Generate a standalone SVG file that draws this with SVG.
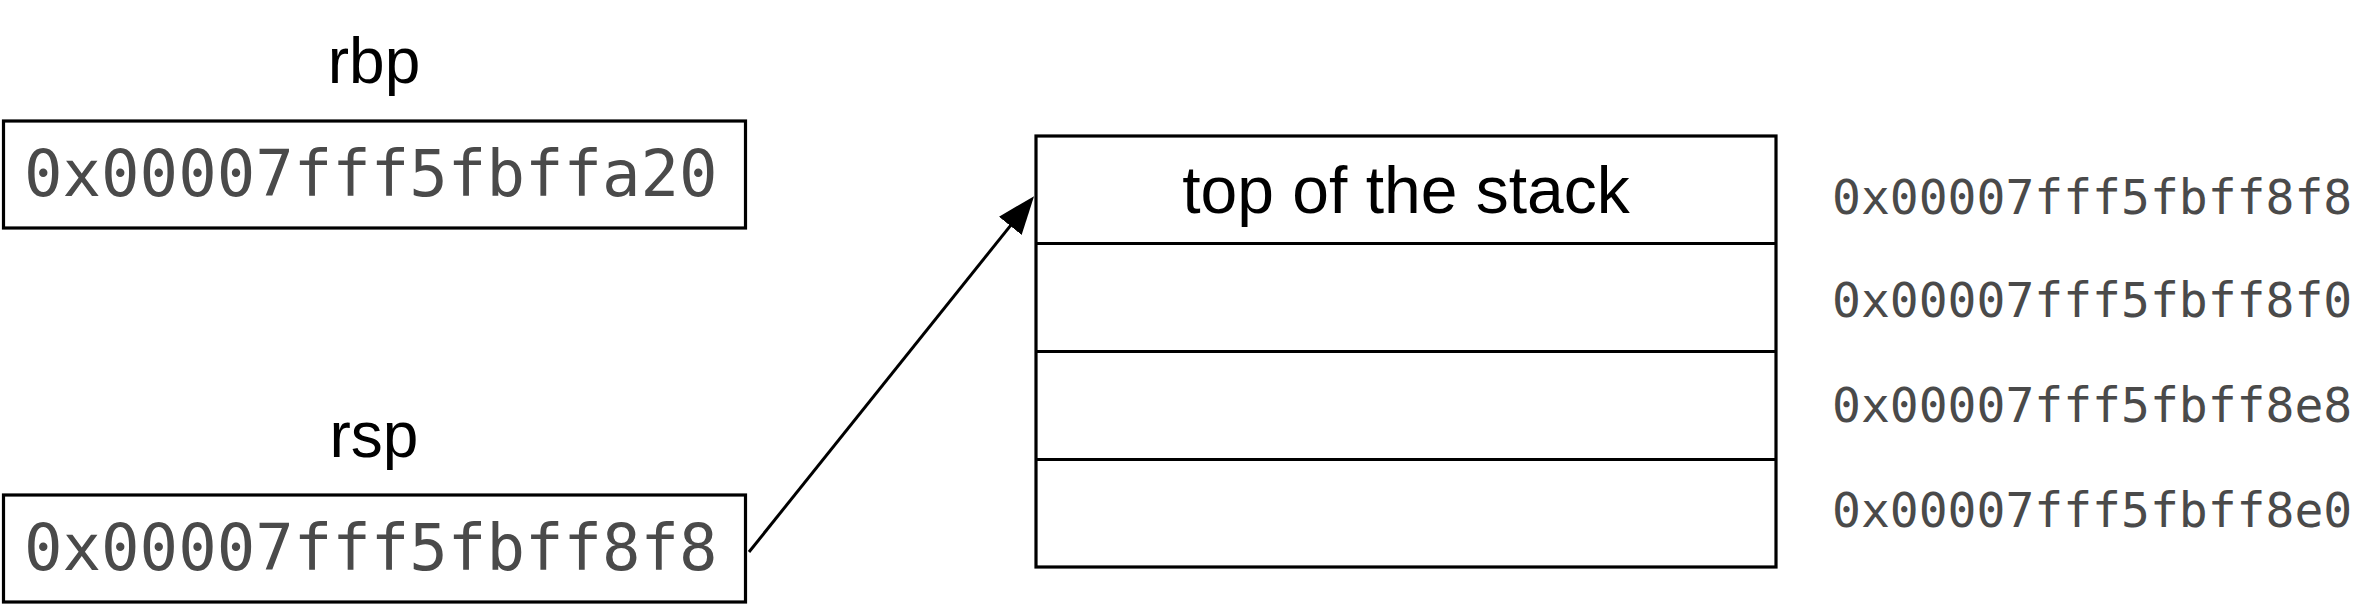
<svg xmlns="http://www.w3.org/2000/svg" width="2376" height="608" viewBox="0 0 2376 608">
  <style>
    .box { fill: #ffffff; stroke: #000000; stroke-width: 3.2; }
    .div { stroke: #000000; stroke-width: 3.2; }
    .label { font-family: "Liberation Sans", Arial, sans-serif; fill: #000000; text-anchor: middle; }
    .addr { font-family: "DejaVu Sans Mono", "Liberation Mono", monospace; fill: #4a4a4a; }
    .conn { fill: none; stroke: #000000; stroke-width: 3; }
  </style>
  <defs>
    <marker id="arrow" viewBox="0 0 38 29" refX="8" refY="14.5" markerWidth="38" markerHeight="29" markerUnits="userSpaceOnUse" orient="auto">
      <path d="M0,0 L38,14.5 L0,29 z" fill="#000000"/>
    </marker>
  </defs>
  <rect width="2376" height="608" fill="#ffffff"/>

  <g id="rbp">
    <text class="label" x="374" y="83" font-size="64">rbp</text>
    <rect class="box" x="3.5" y="121" width="742" height="107"/>
    <text class="addr" x="24" y="196" font-size="64">0x00007fff5fbffa20</text>
  </g>

  <g id="rsp">
    <text class="label" x="374" y="457" font-size="64">rsp</text>
    <rect class="box" x="3.5" y="495" width="742" height="107"/>
    <text class="addr" x="24" y="570" font-size="64">0x00007fff5fbff8f8</text>
  </g>

  <g id="stack">
    <rect class="box" x="1036" y="136" width="740" height="431"/>
    <line class="div" x1="1036" y1="243.5" x2="1776" y2="243.5"/>
    <line class="div" x1="1036" y1="351.5" x2="1776" y2="351.5"/>
    <line class="div" x1="1036" y1="459.5" x2="1776" y2="459.5"/>
    <text class="label" x="1406" y="213" font-size="66">top of the stack</text>
  </g>

  <g id="addresses">
    <text class="addr" x="1832" y="214" font-size="48">0x00007fff5fbff8f8</text>
    <text class="addr" x="1832" y="317" font-size="48">0x00007fff5fbff8f0</text>
    <text class="addr" x="1832" y="422" font-size="48">0x00007fff5fbff8e8</text>
    <text class="addr" x="1832" y="527" font-size="48">0x00007fff5fbff8e0</text>
  </g>

  <g id="connectors">
    <path class="conn" d="M749,552 L1015.3,219.6" marker-end="url(#arrow)"/>
  </g>
</svg>
